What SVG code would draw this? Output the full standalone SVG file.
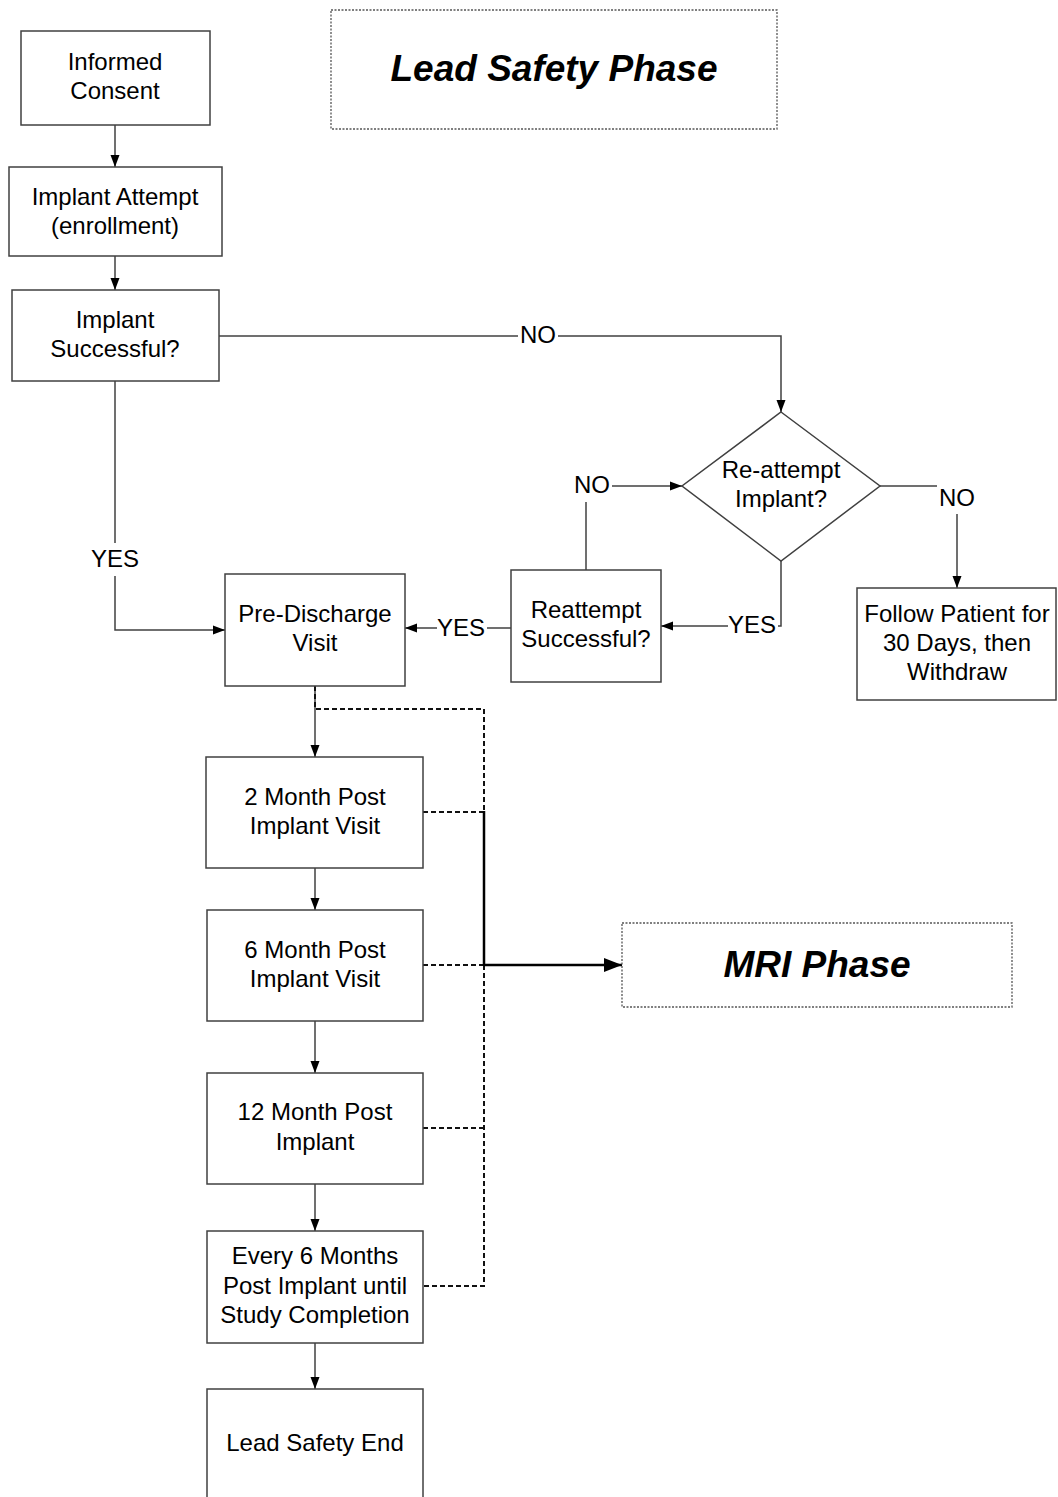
<svg xmlns="http://www.w3.org/2000/svg" width="1058" height="1497" viewBox="0 0 1058 1497">
<style>
.box{fill:#fff;stroke:#404040;stroke-width:1.5}
.t{font-family:"Liberation Sans",Arial,sans-serif;font-size:24px;fill:#000;text-anchor:middle}
.h{font-family:"Liberation Sans",Arial,sans-serif;font-size:37px;font-weight:bold;font-style:italic;fill:#000;text-anchor:middle}
.ln{fill:none;stroke:#404040;stroke-width:1.5}
.dash{fill:none;stroke:#111;stroke-width:2;stroke-dasharray:5,3}
.phase{fill:#fff;stroke:#555;stroke-width:1.3;stroke-dasharray:2,1.5}
</style>
<defs>
<marker id="a" markerWidth="12" markerHeight="10" refX="12" refY="5" orient="auto" markerUnits="userSpaceOnUse">
<path d="M0,0.5 L12,5 L0,9.5 Z" fill="#000"/>
</marker>
<marker id="b" markerWidth="18" markerHeight="14" refX="18" refY="7" orient="auto" markerUnits="userSpaceOnUse">
<path d="M0,0 L18,7 L0,14 Z" fill="#000"/>
</marker>
</defs>
<rect width="1058" height="1497" fill="#fff"/>

<g id="connectors">
<line class="ln" x1="115" y1="125" x2="115" y2="167" marker-end="url(#a)"/>
<line class="ln" x1="115" y1="256" x2="115" y2="290" marker-end="url(#a)"/>
<polyline class="ln" points="219,336 518,336"/>
<polyline class="ln" points="558,336 781,336 781,412" marker-end="url(#a)"/>
<text class="t" x="538" y="343">NO</text>
<polyline class="ln" points="115,381 115,543"/>
<polyline class="ln" points="115,576 115,630 225,630" marker-end="url(#a)"/>
<text class="t" x="115" y="567">YES</text>
<polyline class="ln" points="586,570 586,502"/>
<polyline class="ln" points="612,486 682,486" marker-end="url(#a)"/>
<text class="t" x="592" y="493">NO</text>
<polyline class="ln" points="880,486 937,486"/>
<polyline class="ln" points="957,514 957,588" marker-end="url(#a)"/>
<text class="t" x="957" y="506">NO</text>
<polyline class="ln" points="781,561 781,626 778,626"/>
<polyline class="ln" points="728,626 661,626" marker-end="url(#a)"/>
<text class="t" x="752" y="633">YES</text>
<polyline class="ln" points="511,628 487,628"/>
<polyline class="ln" points="437,628 405,628" marker-end="url(#a)"/>
<text class="t" x="461" y="636">YES</text>
<line class="ln" x1="315" y1="686" x2="315" y2="757" marker-end="url(#a)"/>
<line class="ln" x1="315" y1="868" x2="315" y2="910" marker-end="url(#a)"/>
<line class="ln" x1="315" y1="1021" x2="315" y2="1073" marker-end="url(#a)"/>
<line class="ln" x1="315" y1="1184" x2="315" y2="1231" marker-end="url(#a)"/>
<line class="ln" x1="315" y1="1343" x2="315" y2="1389" marker-end="url(#a)"/>
<polyline class="dash" points="315,686 315,709 484,709 484,1286 423,1286"/>
<line class="dash" x1="423" y1="812" x2="484" y2="812"/>
<line class="dash" x1="423" y1="965" x2="484" y2="965"/>
<line class="dash" x1="423" y1="1128" x2="484" y2="1128"/>
<line x1="484" y1="811" x2="484" y2="966" stroke="#000" stroke-width="2.5"/>
<line x1="484" y1="965" x2="622" y2="965" stroke="#000" stroke-width="2.5" marker-end="url(#b)"/>
</g>

<g id="title">
<rect class="phase" x="331" y="10" width="446" height="119"/>
<text class="h" x="554" y="81">Lead Safety Phase</text>
</g>
<g id="informed-consent">
<rect class="box" x="21" y="31" width="189" height="94"/>
<text class="t" x="115" y="70">Informed</text>
<text class="t" x="115" y="99">Consent</text>
</g>
<g id="implant-attempt">
<rect class="box" x="9" y="167" width="213" height="89"/>
<text class="t" x="115" y="205">Implant Attempt</text>
<text class="t" x="115" y="234">(enrollment)</text>
</g>
<g id="implant-successful">
<rect class="box" x="12" y="290" width="207" height="91"/>
<text class="t" x="115" y="328">Implant</text>
<text class="t" x="115" y="357">Successful?</text>
</g>
<g id="reattempt-implant">
<polygon class="box" points="781,412 880,486 781,561 682,486"/>
<text class="t" x="781" y="478">Re-attempt</text>
<text class="t" x="781" y="507">Implant?</text>
</g>
<g id="follow-patient">
<rect class="box" x="857" y="588" width="199" height="112"/>
<text class="t" x="957" y="622">Follow Patient for</text>
<text class="t" x="957" y="651">30 Days, then</text>
<text class="t" x="957" y="680">Withdraw</text>
</g>
<g id="reattempt-successful">
<rect class="box" x="511" y="570" width="150" height="112"/>
<text class="t" x="586" y="618">Reattempt</text>
<text class="t" x="586" y="647">Successful?</text>
</g>
<g id="pre-discharge">
<rect class="box" x="225" y="574" width="180" height="112"/>
<text class="t" x="315" y="622">Pre-Discharge</text>
<text class="t" x="315" y="651">Visit</text>
</g>
<g id="month2">
<rect class="box" x="206" y="757" width="217" height="111"/>
<text class="t" x="315" y="805">2 Month Post</text>
<text class="t" x="315" y="834">Implant Visit</text>
</g>
<g id="month6">
<rect class="box" x="207" y="910" width="216" height="111"/>
<text class="t" x="315" y="958">6 Month Post</text>
<text class="t" x="315" y="987">Implant Visit</text>
</g>
<g id="month12">
<rect class="box" x="207" y="1073" width="216" height="111"/>
<text class="t" x="315" y="1120">12 Month Post</text>
<text class="t" x="315" y="1150">Implant</text>
</g>
<g id="every6">
<rect class="box" x="207" y="1231" width="216" height="112"/>
<text class="t" x="315" y="1264">Every 6 Months</text>
<text class="t" x="315" y="1294">Post Implant until</text>
<text class="t" x="315" y="1323">Study Completion</text>
</g>
<g id="lead-safety-end">
<rect class="box" x="207" y="1389" width="216" height="120"/>
<text class="t" x="315" y="1451">Lead Safety End</text>
</g>
<g id="mri-phase">
<rect class="phase" x="622" y="923" width="390" height="84"/>
<text class="h" x="817" y="977">MRI Phase</text>
</g>
</svg>
